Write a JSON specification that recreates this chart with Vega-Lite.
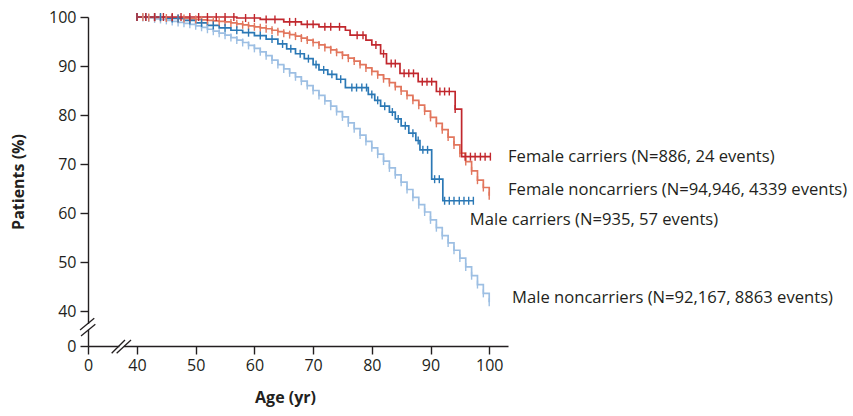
{
  "$schema": "https://vega.github.io/schema/vega-lite/v6.json",
  "width": 420,
  "height": 329,
  "autosize": {"type": "none"},
  "padding": {"left": 88, "top": 17, "right": 345, "bottom": 70},
  "background": "white",
  "config": {
    "view": {"stroke": null},
    "axis": {
      "grid": false,
      "labelFont": "Open Sans",
      "labelFontSize": 16,
      "labelColor": "#231f20",
      "labelFlush": false,
      "domainColor": "#231f20",
      "domainWidth": 1.4,
      "tickColor": "#231f20",
      "tickWidth": 1.4,
      "tickSize": 8,
      "titleFont": "Open Sans",
      "titleFontSize": 16,
      "titleFontWeight": "bold",
      "titleColor": "#231f20"
    },
    "text": {"font": "Open Sans"}
  },
  "datasets": {
    "km": [
      {"g":"MN","a":40,"p":100,"c":1},{"g":"MN","a":41,"p":99.9,"c":1},{"g":"MN","a":42,"p":99.8,"c":1},{"g":"MN","a":43,"p":99.6,"c":1},{"g":"MN","a":44,"p":99.5,"c":1},{"g":"MN","a":45,"p":99.3,"c":1},{"g":"MN","a":46,"p":99.1,"c":1},{"g":"MN","a":47,"p":98.9,"c":1},{"g":"MN","a":48,"p":98.7,"c":1},{"g":"MN","a":49,"p":98.5,"c":1},
      {"g":"MN","a":50,"p":98.2,"c":1},{"g":"MN","a":51,"p":97.9,"c":1},{"g":"MN","a":52,"p":97.5,"c":1},{"g":"MN","a":53,"p":97.1,"c":1},{"g":"MN","a":54,"p":96.7,"c":1},{"g":"MN","a":55,"p":96.3,"c":1},{"g":"MN","a":56,"p":95.8,"c":1},{"g":"MN","a":57,"p":95.3,"c":1},{"g":"MN","a":58,"p":94.8,"c":1},{"g":"MN","a":59,"p":94.2,"c":1},
      {"g":"MN","a":60,"p":93.6,"c":1},{"g":"MN","a":61,"p":92.9,"c":1},{"g":"MN","a":62,"p":92.1,"c":1},{"g":"MN","a":63,"p":91.2,"c":1},{"g":"MN","a":64,"p":90.3,"c":1},{"g":"MN","a":65,"p":89.4,"c":1},{"g":"MN","a":66,"p":88.6,"c":1},{"g":"MN","a":67,"p":87.8,"c":1},{"g":"MN","a":68,"p":86.9,"c":1},{"g":"MN","a":69,"p":86.0,"c":1},
      {"g":"MN","a":70,"p":85.0,"c":1},{"g":"MN","a":71,"p":84.0,"c":1},{"g":"MN","a":72,"p":82.9,"c":1},{"g":"MN","a":73,"p":81.8,"c":1},{"g":"MN","a":74,"p":80.7,"c":1},{"g":"MN","a":75,"p":79.6,"c":1},{"g":"MN","a":76,"p":78.4,"c":1},{"g":"MN","a":77,"p":77.2,"c":1},{"g":"MN","a":78,"p":75.9,"c":1},{"g":"MN","a":79,"p":74.6,"c":1},
      {"g":"MN","a":80,"p":73.3,"c":1},{"g":"MN","a":81,"p":72.0,"c":1},{"g":"MN","a":82,"p":70.6,"c":1},{"g":"MN","a":83,"p":69.2,"c":1},{"g":"MN","a":84,"p":67.8,"c":1},{"g":"MN","a":85,"p":66.3,"c":1},{"g":"MN","a":86,"p":64.8,"c":1},{"g":"MN","a":87,"p":63.2,"c":1},{"g":"MN","a":88,"p":61.7,"c":1},{"g":"MN","a":89,"p":60.2,"c":1},
      {"g":"MN","a":90,"p":58.6,"c":1},{"g":"MN","a":91,"p":57.0,"c":1},{"g":"MN","a":92,"p":55.4,"c":1},{"g":"MN","a":93,"p":53.9,"c":1},{"g":"MN","a":94,"p":52.4,"c":1},{"g":"MN","a":95,"p":50.8,"c":1},{"g":"MN","a":96,"p":49.0,"c":1},{"g":"MN","a":97,"p":47.2,"c":1},{"g":"MN","a":98,"p":45.4,"c":1},{"g":"MN","a":99,"p":43.6,"c":1},{"g":"MN","a":100,"p":41.8,"c":1},

      {"g":"FN","a":40,"p":100,"c":1},{"g":"FN","a":41,"p":100,"c":1},{"g":"FN","a":42,"p":99.9,"c":1},{"g":"FN","a":43,"p":99.9,"c":1},{"g":"FN","a":44,"p":99.9,"c":1},{"g":"FN","a":45,"p":99.8,"c":1},{"g":"FN","a":46,"p":99.8,"c":1},{"g":"FN","a":47,"p":99.7,"c":1},{"g":"FN","a":48,"p":99.7,"c":1},{"g":"FN","a":49,"p":99.6,"c":1},
      {"g":"FN","a":50,"p":99.5,"c":1},{"g":"FN","a":51,"p":99.4,"c":1},{"g":"FN","a":52,"p":99.3,"c":1},{"g":"FN","a":53,"p":99.2,"c":1},{"g":"FN","a":54,"p":99.1,"c":1},{"g":"FN","a":55,"p":99.0,"c":1},{"g":"FN","a":56,"p":98.8,"c":1},{"g":"FN","a":57,"p":98.6,"c":1},{"g":"FN","a":58,"p":98.4,"c":1},{"g":"FN","a":59,"p":98.2,"c":1},
      {"g":"FN","a":60,"p":98.0,"c":1},{"g":"FN","a":61,"p":97.8,"c":1},{"g":"FN","a":62,"p":97.6,"c":1},{"g":"FN","a":63,"p":97.3,"c":1},{"g":"FN","a":64,"p":97.0,"c":1},{"g":"FN","a":65,"p":96.7,"c":1},{"g":"FN","a":66,"p":96.4,"c":1},{"g":"FN","a":67,"p":96.1,"c":1},{"g":"FN","a":68,"p":95.7,"c":1},{"g":"FN","a":69,"p":95.3,"c":1},
      {"g":"FN","a":70,"p":94.8,"c":1},{"g":"FN","a":71,"p":94.3,"c":1},{"g":"FN","a":72,"p":93.8,"c":1},{"g":"FN","a":73,"p":93.3,"c":1},{"g":"FN","a":74,"p":92.8,"c":1},{"g":"FN","a":75,"p":92.2,"c":1},{"g":"FN","a":76,"p":91.6,"c":1},{"g":"FN","a":77,"p":91.0,"c":1},{"g":"FN","a":78,"p":90.3,"c":1},{"g":"FN","a":79,"p":89.6,"c":1},
      {"g":"FN","a":80,"p":88.9,"c":1},{"g":"FN","a":81,"p":88.2,"c":1},{"g":"FN","a":82,"p":87.4,"c":1},{"g":"FN","a":83,"p":86.6,"c":1},{"g":"FN","a":84,"p":85.8,"c":1},{"g":"FN","a":85,"p":84.9,"c":1},{"g":"FN","a":86,"p":84.0,"c":1},{"g":"FN","a":87,"p":83.0,"c":1},{"g":"FN","a":88,"p":82.0,"c":1},{"g":"FN","a":89,"p":80.8,"c":1},
      {"g":"FN","a":90,"p":79.5,"c":1},{"g":"FN","a":91,"p":78.3,"c":1},{"g":"FN","a":92,"p":77.0,"c":1},{"g":"FN","a":93,"p":75.5,"c":1},{"g":"FN","a":94,"p":73.9,"c":1},{"g":"FN","a":95,"p":72.2,"c":1},{"g":"FN","a":96,"p":70.5,"c":1},{"g":"FN","a":97,"p":68.6,"c":1},{"g":"FN","a":98,"p":66.7,"c":1},{"g":"FN","a":99,"p":65.2,"c":1},{"g":"FN","a":100,"p":63.5,"c":1},

      {"g":"MC","a":40,"p":100,"c":1},{"g":"MC","a":41.5,"p":100,"c":1},{"g":"MC","a":43,"p":100,"c":1},{"g":"MC","a":44,"p":100,"c":1},{"g":"MC","a":45,"p":99.7},{"g":"MC","a":46,"p":99.7,"c":1},{"g":"MC","a":47,"p":99.7,"c":1},{"g":"MC","a":48,"p":99.3},{"g":"MC","a":49,"p":99.3,"c":1},
      {"g":"MC","a":50,"p":98.8},{"g":"MC","a":51,"p":98.8,"c":1},{"g":"MC","a":52,"p":98.3},{"g":"MC","a":53,"p":98.3,"c":1},{"g":"MC","a":54,"p":97.8},{"g":"MC","a":55,"p":97.8,"c":1},{"g":"MC","a":56,"p":97.3},{"g":"MC","a":57,"p":97.3,"c":1},{"g":"MC","a":58,"p":96.8},{"g":"MC","a":59,"p":96.8,"c":1},
      {"g":"MC","a":60,"p":96.2},{"g":"MC","a":61,"p":96.2,"c":1},{"g":"MC","a":62,"p":95.5},{"g":"MC","a":63,"p":95.5,"c":1},{"g":"MC","a":64,"p":94.5},{"g":"MC","a":64.8,"p":94.5,"c":1},{"g":"MC","a":65.5,"p":93.5},{"g":"MC","a":66.2,"p":93.5,"c":1},{"g":"MC","a":67,"p":92.5},{"g":"MC","a":67.8,"p":92.5,"c":1},
      {"g":"MC","a":68.5,"p":91.5},{"g":"MC","a":69.2,"p":91.5,"c":1},{"g":"MC","a":70,"p":90.3},{"g":"MC","a":70.5,"p":90.3,"c":1},{"g":"MC","a":71,"p":89.2},{"g":"MC","a":71.8,"p":89.2,"c":1},{"g":"MC","a":72.5,"p":88.3},{"g":"MC","a":73.2,"p":88.3,"c":1},{"g":"MC","a":74,"p":87.3},{"g":"MC","a":74.7,"p":87.3,"c":1},
      {"g":"MC","a":75.5,"p":85.6},{"g":"MC","a":76.6,"p":85.6,"c":1},{"g":"MC","a":77.4,"p":85.6,"c":1},{"g":"MC","a":78.3,"p":85.6,"c":1},{"g":"MC","a":79.1,"p":85.6,"c":1},{"g":"MC","a":79.4,"p":84.2},{"g":"MC","a":80,"p":84.2,"c":1},{"g":"MC","a":80.5,"p":83.0},{"g":"MC","a":81,"p":83.0,"c":1},
      {"g":"MC","a":81.5,"p":81.8},{"g":"MC","a":82.2,"p":81.8,"c":1},{"g":"MC","a":83,"p":80.6},{"g":"MC","a":83.5,"p":80.6,"c":1},{"g":"MC","a":84,"p":79.2},{"g":"MC","a":84.5,"p":79.2,"c":1},{"g":"MC","a":85,"p":77.8},{"g":"MC","a":85.7,"p":77.8,"c":1},{"g":"MC","a":86.3,"p":76.3},{"g":"MC","a":87,"p":76.3,"c":1},
      {"g":"MC","a":87.5,"p":74.8},{"g":"MC","a":87.9,"p":74.8,"c":1},{"g":"MC","a":88.2,"p":72.9},{"g":"MC","a":88.7,"p":72.9,"c":1},{"g":"MC","a":89.5,"p":72.9,"c":1},{"g":"MC","a":90.2,"p":66.9},{"g":"MC","a":90.7,"p":66.9,"c":1},{"g":"MC","a":91.5,"p":66.9,"c":1},
      {"g":"MC","a":92.1,"p":62.5},{"g":"MC","a":92.4,"p":62.5,"c":1},{"g":"MC","a":93.2,"p":62.5,"c":1},{"g":"MC","a":94,"p":62.5,"c":1},{"g":"MC","a":94.9,"p":62.5,"c":1},{"g":"MC","a":95.7,"p":62.5,"c":1},{"g":"MC","a":96.5,"p":62.5,"c":1},{"g":"MC","a":97.3,"p":62.5,"c":1},

      {"g":"FC","a":40,"p":100,"c":1},{"g":"FC","a":41.5,"p":100,"c":1},{"g":"FC","a":43,"p":100,"c":1},{"g":"FC","a":44.5,"p":100,"c":1},{"g":"FC","a":46,"p":100,"c":1},{"g":"FC","a":47.5,"p":100,"c":1},{"g":"FC","a":49,"p":100,"c":1},{"g":"FC","a":50.5,"p":100,"c":1},{"g":"FC","a":52,"p":100,"c":1},{"g":"FC","a":53.5,"p":100,"c":1},{"g":"FC","a":55,"p":100,"c":1},{"g":"FC","a":56.5,"p":100,"c":1},
      {"g":"FC","a":57,"p":99.8},{"g":"FC","a":58.5,"p":99.8,"c":1},{"g":"FC","a":60,"p":99.8,"c":1},{"g":"FC","a":61,"p":99.5},{"g":"FC","a":62,"p":99.5,"c":1},{"g":"FC","a":63.5,"p":99.5,"c":1},{"g":"FC","a":65,"p":99.0},{"g":"FC","a":66,"p":99.0,"c":1},{"g":"FC","a":67,"p":99.0,"c":1},
      {"g":"FC","a":68,"p":98.5},{"g":"FC","a":69,"p":98.5,"c":1},{"g":"FC","a":70,"p":98.5,"c":1},{"g":"FC","a":71,"p":98.0},{"g":"FC","a":72,"p":98.0,"c":1},{"g":"FC","a":73,"p":98.0,"c":1},{"g":"FC","a":74.5,"p":98.0,"c":1},{"g":"FC","a":75.5,"p":97.3},{"g":"FC","a":76.3,"p":96.3},{"g":"FC","a":77.5,"p":96.3,"c":1},{"g":"FC","a":78.5,"p":96.3,"c":1},
      {"g":"FC","a":79,"p":95.3},{"g":"FC","a":80,"p":94.3},{"g":"FC","a":80.7,"p":94.3,"c":1},{"g":"FC","a":81.5,"p":92.5},{"g":"FC","a":82,"p":92.5,"c":1},{"g":"FC","a":82.5,"p":90.5},{"g":"FC","a":83.3,"p":90.5,"c":1},{"g":"FC","a":84,"p":90.5,"c":1},
      {"g":"FC","a":84.8,"p":88.5},{"g":"FC","a":85.5,"p":88.5,"c":1},{"g":"FC","a":86.3,"p":88.5,"c":1},{"g":"FC","a":87.1,"p":88.5,"c":1},{"g":"FC","a":87.9,"p":86.8},{"g":"FC","a":88.6,"p":86.8,"c":1},{"g":"FC","a":89.4,"p":86.8,"c":1},{"g":"FC","a":90.2,"p":86.8,"c":1},
      {"g":"FC","a":91,"p":84.8},{"g":"FC","a":91.6,"p":84.8,"c":1},{"g":"FC","a":92.4,"p":84.8,"c":1},{"g":"FC","a":93.2,"p":84.8,"c":1},{"g":"FC","a":94.2,"p":81.2,"c":1},{"g":"FC","a":95.3,"p":71.5},
      {"g":"FC","a":95.9,"p":71.5,"c":1},{"g":"FC","a":96.8,"p":71.5,"c":1},{"g":"FC","a":97.6,"p":71.5,"c":1},{"g":"FC","a":98.5,"p":71.5,"c":1},{"g":"FC","a":99.3,"p":71.5,"c":1},{"g":"FC","a":100.2,"p":71.5,"c":1}
    ],
    "labels": [
      {"t":"Female carriers (N=886, 24 events)","a":103.2,"p":71.4},
      {"t":"Female noncarriers (N=94,946, 4339 events)","a":103.2,"p":64.7},
      {"t":"Male carriers (N=935, 57 events)","a":96.7,"p":58.6},
      {"t":"Male noncarriers (N=92,167, 8863 events)","a":103.9,"p":42.7}
    ],
    "breaks": [
      {"k":"w","a":0,"p":18.6,"a2":0,"p2":25.2},
      {"k":"w","a":25.6,"p":0,"a2":29.4,"p2":0},
      {"k":"s","a":-6.5,"p":18.3,"a2":5.1,"p2":31.7},
      {"k":"s","a":-5.7,"p":11.4,"a2":6,"p2":24.8},
      {"k":"s","a":19.3,"p":-8.3,"a2":30.2,"p2":6.9},
      {"k":"s","a":23.4,"p":-8.3,"a2":35.1,"p2":6.9}
    ]
  },
  "encoding": {
    "x": {"field": "a", "type": "quantitative",
          "scale": {"domain": [0, 40, 103.2], "range": [0, 49, 420], "zero": false, "nice": false},
          "axis": {"values": [0, 40, 50, 60, 70, 80, 90, 100], "title": "Age (yr)", "labelPadding": 3, "titlePadding": 16, "titleX": 197}},
    "y": {"field": "p", "type": "quantitative",
          "scale": {"domain": [0, 40, 100], "range": [329, 294, 0], "zero": false, "nice": false},
          "axis": {"values": [0, 40, 50, 60, 70, 80, 90, 100], "title": "Patients (%)", "labelPadding": 4, "titlePadding": 22}}
  },
  "layer": [
    {
      "data": {"name": "km"},
      "mark": {"type": "line", "interpolate": "step-after", "strokeWidth": 1.7},
      "encoding": {
        "color": {"field": "g", "type": "nominal", "legend": null,
                  "scale": {"domain": ["MN", "FN", "MC", "FC"], "range": ["#9dbfe3", "#e2765d", "#2b78b5", "#c1272d"]}},
        "order": {"field": "a", "type": "quantitative"}
      }
    },
    {
      "data": {"name": "km"},
      "transform": [{"filter": "datum.c == 1"}],
      "mark": {"type": "point", "shape": "M0,-1L0,1", "size": 64, "strokeWidth": 1.4, "filled": false, "opacity": 1},
      "encoding": {
        "color": {"field": "g", "type": "nominal", "legend": null,
                  "scale": {"domain": ["MN", "FN", "MC", "FC"], "range": ["#9dbfe3", "#e2765d", "#2b78b5", "#c1272d"]}}
      }
    },
    {
      "data": {"name": "breaks"},
      "transform": [{"filter": "datum.k == 'w'"}],
      "mark": {"type": "rule", "color": "white", "strokeWidth": 4},
      "encoding": {
        "x2": {"field": "a2"},
        "y2": {"field": "p2"}
      }
    },
    {
      "data": {"name": "breaks"},
      "transform": [{"filter": "datum.k == 's'"}],
      "mark": {"type": "rule", "color": "#231f20", "strokeWidth": 1.3},
      "encoding": {
        "x2": {"field": "a2"},
        "y2": {"field": "p2"}
      }
    },
    {
      "data": {"name": "labels"},
      "mark": {"type": "text", "align": "left", "baseline": "middle", "fontSize": 16.6, "color": "#231f20", "font": "Open Sans"},
      "encoding": {
        "text": {"field": "t"}
      }
    }
  ]
}
